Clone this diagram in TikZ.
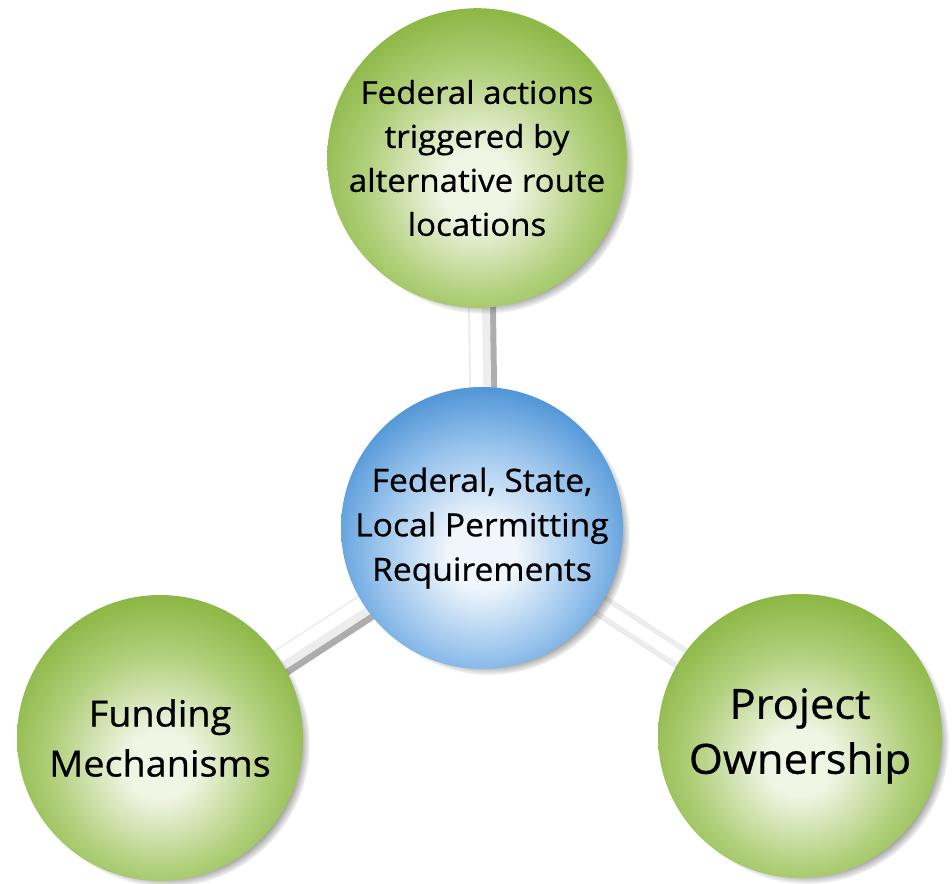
\documentclass[tikz,border=0pt]{standalone}
\usepackage{fontspec}
\newfontfamily\labfont[FakeStretch=1.05,FakeBold=0.7]{Open Sans}
\usetikzlibrary{shadows,backgrounds,fadings}
\definecolor{gC}{RGB}{240,245,228}
\definecolor{gM}{RGB}{176,207,122}
\definecolor{gO}{RGB}{142,184,72}
\definecolor{gE}{RGB}{126,171,56}
\definecolor{bC}{RGB}{240,246,252}
\definecolor{bM}{RGB}{150,194,236}
\definecolor{bO}{RGB}{84,152,216}
\definecolor{bE}{RGB}{62,136,210}
\pgfdeclareradialshading{greenballshade}{\pgfpoint{0bp}{-5bp}}{color(0bp)=(gC); color(6bp)=(gC); color(19bp)=(gM); color(28bp)=(gO); color(36bp)=(gE); color(100bp)=(gE)}
\pgfdeclareradialshading{blueballshade}{\pgfpoint{0bp}{-5bp}}{color(0bp)=(bC); color(6bp)=(bC); color(19bp)=(bM); color(28bp)=(bO); color(36bp)=(bE); color(100bp)=(bE)}
\begin{document}
\begin{tikzpicture}[x=1pt,y=-1pt,
  ballbase/.style={circle, inner sep=0pt, align=center, text=black,
    circular drop shadow={shadow xshift=7pt, shadow yshift=-6pt, shadow scale=1.0, fill=black!75}},
  gball/.style={ballbase, shading=greenballshade},
  bball/.style={ballbase, shading=blueballshade},
  linkshadow/.style={line width=22pt, draw=black!32, transform canvas={shift={(6pt,-4pt)}}},
  linkbody/.style={line width=22pt, draw=black!7},
  linkhi/.style={line width=12pt, draw=white, transform canvas={shift={(-3pt,2pt)}}}
]
\useasboundingbox (0,0) rectangle (952,883);
\node[bball, minimum size=282pt, font=\labfont\fontsize{32}{44.5}\selectfont] (mid) at (482,528)
  {Federal, State,\\Local Permitting\\Requirements};
\node[gball, minimum size=282pt, font=\labfont\fontsize{31.5}{44}\selectfont] (top) at (477,158)
  {Federal actions\\triggered by\\alternative route\\locations};
\node[gball, minimum size=286pt, font=\labfont\fontsize{36}{50}\selectfont] (left) at (160,738)
  {Funding\\Mechanisms};
\node[gball, minimum size=284pt, font=\labfont\fontsize{41.5}{55}\selectfont] (right) at (800,736)
  {Project\\Ownership};
\begin{scope}[on background layer]
  \foreach \t in {top,left,right}{
    \draw[linkshadow] (mid.center) -- (\t.center);
  }
  \foreach \t in {top,left,right}{
    \draw[linkbody] (mid.center) -- (\t.center);
    \draw[linkhi] (mid.center) -- (\t.center);
  }
\end{scope}
\end{tikzpicture}
\end{document}
